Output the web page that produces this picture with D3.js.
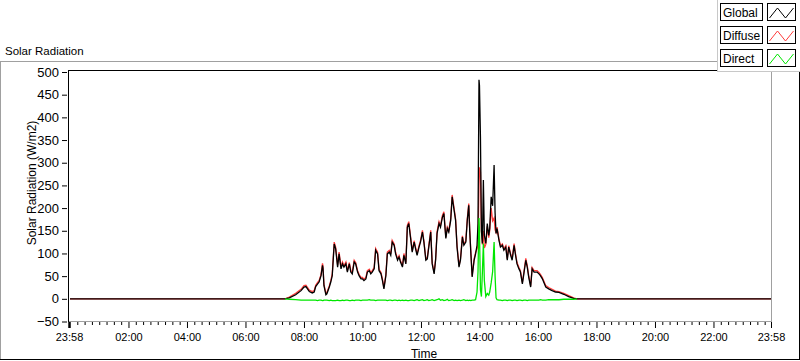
<!DOCTYPE html>
<html>
<head>
<meta charset="utf-8">
<script src="https://cdn.jsdelivr.net/npm/d3@7"></script>
<style>
  body { margin: 0; background: #fff; }
  text { font-family: "Liberation Sans", Arial, sans-serif; fill: #000; }
</style>
</head>
<body>
<div id="chart-holder"></div>
<script>
// sample times (HH:MM) and the three radiation series, W/m2
const times = ["00:00","07:21","07:30","07:43","07:54","08:00","08:04","08:11","08:17","08:21",
  "08:24","08:28","08:31","08:35","08:38","08:39","08:41","08:45","08:47","08:52",
  "08:55","08:58","09:02","09:05","09:09","09:12","09:16","09:19","09:22","09:26",
  "09:29","09:33","09:36","09:39","09:43","09:46","09:50","09:53","09:57","10:00",
  "10:03","10:07","10:10","10:14","10:17","10:20","10:24","10:27","10:31","10:34",
  "10:38","10:41","10:44","10:48","10:51","10:55","10:58","11:01","11:05","11:08",
  "11:12","11:15","11:18","11:22","11:25","11:29","11:32","11:35","11:39","11:42",
  "11:46","11:49","11:52","11:56","11:59","12:03","12:06","12:10","12:13","12:16",
  "12:20","12:23","12:27","12:30","12:33","12:37","12:40","12:44","12:47","12:51",
  "12:54","12:57","13:01","13:04","13:08","13:11","13:14","13:18","13:21","13:25",
  "13:28","13:32","13:35","13:38","13:40","13:42","13:45","13:49","13:52","13:55",
  "13:57","13:59","14:00","14:02","14:04","14:06","14:08","14:10","14:13","14:16",
  "14:19","14:21","14:24","14:27","14:30","14:32","14:34","14:36","14:40","14:43",
  "14:47","14:50","14:54","14:57","15:00","15:04","15:07","15:11","15:14","15:17",
  "15:21","15:24","15:28","15:31","15:35","15:38","15:41","15:45","15:48","15:52",
  "15:58","16:02","16:05","16:09","16:16","16:22","16:29","16:36","16:43","16:53",
  "17:03","17:13","17:20","23:58"];

const globalRad = [0,0,2,9,18,26,27,16,13,15,
  27,33,37,51,74,68,29,9,11,26,
  37,51,121,110,70,99,66,77,70,77,
  59,77,59,55,81,77,59,51,44,44,
  40,44,59,62,55,59,66,107,99,62,
  55,40,22,51,99,103,96,125,118,99,
  85,92,81,70,96,77,158,166,131,103,
  125,110,96,114,125,147,125,85,88,114,
  147,77,55,85,144,166,158,180,188,133,
  155,147,173,225,195,173,114,70,85,136,
  118,125,173,206,150,107,48,85,99,118,
  166,483,470,357,150,122,262,140,122,166,
  140,155,225,205,295,190,144,155,129,114,
  118,107,114,85,114,96,85,118,96,77,
  66,59,33,55,85,70,48,26,66,59,
  59,55,51,44,26,22,18,15,14,10,
  5,1,0,0];

const diffuseRad = [0,0,4,12,21,29,30,19,16,18,
  30,36,40,54,78,72,32,12,14,29,
  40,55,125,114,74,103,70,81,73,81,
  62,80,63,58,85,80,62,54,47,47,
  43,47,62,65,58,62,69,111,103,65,
  58,43,25,54,103,107,99,129,121,102,
  88,95,84,73,100,80,162,170,134,106,
  128,113,99,117,128,151,128,88,91,117,
  151,80,58,88,148,170,161,184,192,136,
  158,150,177,229,199,176,117,73,88,139,
  121,128,177,210,153,110,51,88,102,110,
  120,250,290,280,148,120,150,112,120,160,
  135,150,200,172,178,152,146,158,132,117,
  121,110,117,88,117,99,88,122,99,80,
  69,62,36,58,89,73,51,29,69,62,
  62,58,54,47,29,25,21,17,16,12,
  7,2,0,0];

// Direct is only logged between sunrise and sunset (null = no sample)
const directRad = [null,0,-1,-2,-3,-3,-3,-3,-3,-3,
  -3,-4,-3,-3,-4,-4,-3,-3,-3,-4,
  -3,-4,-4,-4,-3,-4,-4,-3,-4,-3,
  -3,-4,-4,-3,-4,-3,-3,-3,-4,-3,
  -3,-3,-3,-2,-3,-3,-3,-4,-3,-3,
  -3,-3,-3,-3,-4,-3,-3,-4,-3,-3,
  -4,-3,-4,-3,-4,-3,-4,-4,-3,-3,
  -4,-3,-2,-4,-3,-2,-4,-3,-2,-4,
  -3,-2,-4,-3,-2,0,-3,-2,-4,-3,
  -1,-4,-3,-2,-4,-3,-4,-3,-4,-3,
  -2,-4,-3,-4,-3,-4,-3,-3,-2,15,
  60,178,150,20,5,60,122,40,5,12,
  8,15,35,60,125,50,2,-2,-3,-3,
  -4,-3,-3,-4,-3,-3,-4,-3,-3,-4,
  -3,-3,-4,-3,-3,-4,-3,-3,-3,-3,
  -3,-3,-2,-3,-3,-2,-2,-2,-2,-1,
  -1,-1,0,null];

const seriesNames = ["Global", "Diffuse", "Direct"];
const seriesColors = ["#000000", "#ff3c3c", "#00e600"];
const yTicks = [-50, 0, 50, 100, 150, 200, 250, 300, 350, 400, 450, 500];
const xTickLabels = ["23:58","02:00","04:00","06:00","08:00","10:00","12:00",
  "14:00","16:00","18:00","20:00","22:00","23:58"];

const W = 800, H = 361;
const plot = { left: 68, top: 70, right: 772, bottom: 322 };

const parseTime = d3.timeParse("%H:%M");
const tStart = new Date(1899, 11, 31, 23, 58);
const tEnd = new Date(1900, 0, 1, 23, 58);

const svg = d3.select("#chart-holder").append("svg")
  .attr("width", W)
  .attr("height", H);

svg.append("rect").attr("width", W).attr("height", H).attr("fill", "#fff");

// outer panel edges
svg.append("line").attr("x1", 0).attr("x2", 718).attr("y1", 61.5).attr("y2", 61.5).attr("stroke", "#a0a0a0");
svg.append("line").attr("x1", 0.5).attr("x2", 0.5).attr("y1", 61).attr("y2", 360).attr("stroke", "#a0a0a0");
svg.append("line").attr("x1", 0).attr("x2", 800).attr("y1", 359.5).attr("y2", 359.5).attr("stroke", "#000");
svg.append("line").attr("x1", 799.5).attr("x2", 799.5).attr("y1", 61).attr("y2", 360).attr("stroke", "#000");

svg.append("text").attr("x", 5).attr("y", 55).style("font-size", "11.5px").text("Solar Radiation");

// scales
const x = d3.scaleTime().domain([tStart, tEnd]).range([69, 771]);
const y = d3.scaleLinear().domain([-50, 500]).range([321.5, 72]);

// plot frame
svg.append("rect").attr("x", plot.left).attr("y", plot.top)
  .attr("width", plot.right - plot.left).attr("height", plot.bottom - plot.top).attr("fill", "#fff");
svg.append("line").attr("x1", plot.right - 0.5).attr("x2", plot.right - 0.5)
  .attr("y1", plot.top).attr("y2", plot.bottom).attr("stroke", "#a0a0a0");
svg.append("line").attr("x1", plot.left).attr("x2", plot.right)
  .attr("y1", plot.bottom - 0.5).attr("y2", plot.bottom - 0.5).attr("stroke", "#a0a0a0");
svg.append("line").attr("x1", plot.left).attr("x2", plot.right)
  .attr("y1", plot.top + 0.5).attr("y2", plot.top + 0.5).attr("stroke", "#000");
svg.append("line").attr("x1", plot.left + 0.5).attr("x2", plot.left + 0.5)
  .attr("y1", plot.top).attr("y2", plot.bottom).attr("stroke", "#000");

// y axis
const yAxis = svg.append("g")
  .attr("transform", "translate(" + (plot.left - 1) + ",0)")
  .call(d3.axisLeft(y).tickValues(yTicks).tickSize(5).tickPadding(3));
yAxis.select(".domain").remove();
yAxis.selectAll("text").style("font-size", "13px").attr("font-family", null).attr("fill", "#000");

svg.append("text")
  .attr("transform", "translate(35.5,183) rotate(-90)")
  .attr("text-anchor", "middle")
  .style("font-size", "12px")
  .text("Solar Radiation (W/m2)");

// x axis: minor ticks every 15 min, major ticks every 2 h plus both ends
const majorDates = xTickLabels.map((s, i) => i === 0 ? tStart : (i === xTickLabels.length - 1 ? tEnd : parseTime(s)));
const minorDates = d3.timeMinute.every(15).range(new Date(1900, 0, 1, 0, 15), tEnd)
  .filter(d => d.getMinutes() !== 0 || d.getHours() % 2 !== 0);

const xMinor = svg.append("g")
  .attr("transform", "translate(0," + plot.bottom + ")")
  .call(d3.axisBottom(x).tickValues(minorDates).tickSize(3).tickFormat(""));
xMinor.select(".domain").remove();

const xMajor = svg.append("g")
  .attr("transform", "translate(0," + plot.bottom + ")")
  .call(d3.axisBottom(x).tickValues(majorDates).tickSize(6).tickPadding(5)
    .tickFormat((d, i) => xTickLabels[i]));
xMajor.select(".domain").remove();
xMajor.selectAll("text").style("font-size", "11px").attr("font-family", null).attr("fill", "#000");
xMajor.selectAll(".tick line").filter((d, i) => i === 0).attr("stroke-width", 2.5);

svg.append("text").attr("x", (plot.left + plot.right) / 2 + 4).attr("y", 358)
  .attr("text-anchor", "middle").style("font-size", "12px").text("Time");

// series
const tParsed = times.map(parseTime);
const seriesValues = [globalRad, diffuseRad, directRad];
const valueline = d3.line()
  .defined(d => d.v !== null)
  .x(d => x(d.t))
  .y(d => y(d.v));

svg.append("clipPath").attr("id", "plot-clip")
  .append("rect").attr("x", plot.left + 1).attr("y", plot.top + 1)
  .attr("width", plot.right - plot.left - 2).attr("height", plot.bottom - plot.top - 2);

const lines = svg.append("g").attr("clip-path", "url(#plot-clip)");
// Diffuse under Global, Direct on top
[1, 0, 2].forEach(k => {
  const pts = tParsed.map((t, i) => ({ t: t, v: seriesValues[k][i] }));
  lines.append("path")
    .attr("d", valueline(pts))
    .attr("fill", "none")
    .attr("stroke", seriesColors[k])
    .attr("stroke-width", 1.3)
    .attr("stroke-linejoin", "miter");
});

// legend
const lg = svg.append("g");
lg.append("rect").attr("x", 717.5).attr("y", -1).attr("width", 83).attr("height", 72.5)
  .attr("fill", "#fff").attr("stroke", "#c8c8c8");
seriesNames.forEach((name, i) => {
  const top = 3.5 + i * 23;
  lg.append("rect").attr("x", 720.5).attr("y", top).attr("width", 42).attr("height", 17)
    .attr("fill", "#fff").attr("stroke", "#000");
  lg.append("text").attr("x", 723).attr("y", top + 13).style("font-size", "12px").text(name);
  lg.append("rect").attr("x", 767.5).attr("y", top).attr("width", 28).attr("height", 17)
    .attr("fill", "#fff").attr("stroke", "#000");
  lg.append("path")
    .attr("d", d3.line()([[769.5, top + 14.5], [777.5, top + 4.5], [785.5, top + 14.5], [793.5, top + 4.5]]))
    .attr("fill", "none").attr("stroke", seriesColors[i]).attr("stroke-width", 1);
});
</script>
</body>
</html>
